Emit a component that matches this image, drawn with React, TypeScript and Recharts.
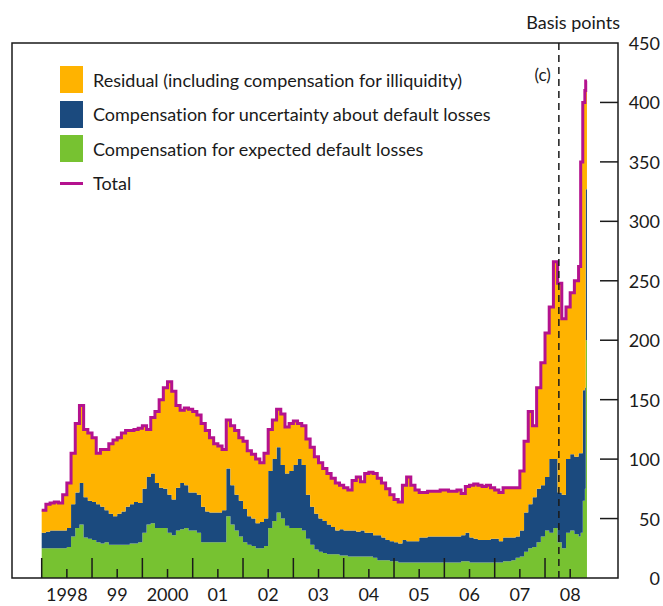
import React from 'react';
import { ComposedChart, Area, Line, XAxis, YAxis, ReferenceLine, ReferenceArea } from 'recharts';

// x positions are months counted from January 1998
const yearLabels = ['1998', '99', '2000', '01', '02', '03', '04', '05', '06', '07', '08'];
const xTicks = [0, 6, 12, 18, 24, 30, 36, 42, 48, 54, 60, 66, 72, 78, 84, 90, 96, 102, 108, 114, 120, 126];
const yTicks = [0, 50, 100, 150, 200, 250, 300, 350, 400, 450];

// monthly values, Jan 1998 - Aug 2008 (basis points)
const totalByYear = [
  [57, 62, 63, 64, 63, 70, 80, 105, 130, 145, 125, 122],
  [118, 105, 108, 108, 113, 116, 118, 122, 124, 124, 125, 126],
  [128, 125, 135, 140, 150, 160, 165, 157, 145, 141, 143, 142],
  [140, 137, 130, 124, 118, 113, 111, 108, 133, 128, 124, 118],
  [115, 107, 104, 100, 97, 105, 125, 133, 142, 138, 127, 130],
  [132, 130, 128, 117, 110, 102, 97, 92, 88, 84, 80, 78],
  [76, 74, 82, 85, 81, 88, 89, 88, 84, 80, 75, 70],
  [66, 64, 78, 85, 78, 74, 72, 72, 73, 73, 73, 74],
  [74, 73, 73, 74, 71, 77, 78, 79, 78, 77, 78, 76],
  [74, 72, 76, 76, 76, 76, 90, 115, 140, 128, 160, 181],
  [206, 228, 266, 248, 218, 228, 240, 250],
];

const expectedByYear = [
  [25, 25, 25, 25, 25, 25, 26, 35, 42, 45, 34, 33],
  [32, 30, 29, 30, 28, 28, 28, 28, 28, 29, 29, 30],
  [38, 45, 46, 42, 42, 42, 38, 36, 40, 41, 42, 40],
  [40, 38, 30, 30, 30, 30, 30, 30, 52, 45, 40, 35],
  [30, 28, 27, 25, 25, 27, 42, 48, 55, 50, 44, 42],
  [42, 42, 40, 33, 28, 24, 22, 21, 20, 20, 20, 19],
  [19, 18, 18, 18, 18, 18, 18, 17, 15, 15, 15, 14],
  [14, 13, 13, 13, 13, 13, 13, 13, 13, 13, 13, 13],
  [13, 13, 13, 13, 14, 14, 13, 13, 13, 13, 13, 13],
  [13, 13, 14, 14, 15, 17, 18, 22, 25, 26, 30, 35],
  [40, 38, 42, 30, 25, 38, 40, 37],
];

const uncertaintyByYear = [
  [13, 14, 15, 15, 15, 15, 16, 27, 30, 35, 34, 32],
  [32, 32, 31, 27, 26, 24, 26, 28, 32, 33, 35, 33],
  [37, 40, 42, 38, 34, 33, 32, 30, 36, 39, 36, 32],
  [32, 32, 30, 26, 25, 25, 25, 27, 40, 33, 30, 30],
  [28, 24, 23, 21, 22, 23, 48, 52, 55, 45, 44, 48],
  [53, 58, 55, 37, 32, 30, 28, 27, 25, 23, 20, 22],
  [21, 22, 22, 21, 22, 20, 20, 19, 21, 19, 17, 17],
  [16, 16, 19, 18, 18, 18, 21, 21, 22, 22, 22, 22],
  [22, 22, 22, 22, 22, 24, 21, 20, 19, 19, 19, 20],
  [20, 18, 20, 20, 19, 18, 22, 33, 37, 42, 45, 43],
  [45, 62, 58, 42, 45, 62, 64, 65],
];

// Sep - Oct 2008, finer steps (last row closes the final step)
const lateMonths = [128, 128.5, 129, 129.5, 129.7, 130];
const lateTotal = [262, 350, 400, 410, 418, 418];
const lateExpected = [35, 38, 65, 75, 200, 200];
const lateUncertainty = [70, 67, 93, 85, 127, 127];

const crisisMonth = 123.3;

const ORANGE = '#FFB300';
const BLUE = '#1B4A7E';
const GREEN = '#77C231';
const MAGENTA = '#B4128E';
const INK = '#1a1a1a';
const FONT = 'Lato, "Open Sans", sans-serif';
const textStyle = { fontVariantLigatures: 'none' } as React.CSSProperties;

const total = totalByYear.flat().concat(lateTotal);
const expected = expectedByYear.flat().concat(lateExpected);
const uncertainty = uncertaintyByYear.flat().concat(lateUncertainty);
const months = totalByYear.flat().map((_, i) => i).concat(lateMonths);

const data = months.map((m, i) => ({
  m,
  expected: expected[i],
  uncertainty: uncertainty[i],
  residual: total[i] - expected[i] - uncertainty[i],
  total: total[i],
}));

const XTick = (props: any) => {
  const { x, y, payload } = props;
  const major = payload.value % 12 === 0;
  return (
    <g>
      <line x1={x} x2={x} y1={y} y2={y - (major ? 20 : 9)} stroke={INK} strokeWidth={1.5} />
      {!major && (
        <text x={x} y={y + 16} textAnchor="middle" dominantBaseline="central" fontFamily={FONT} fontSize={18} fill={INK} style={textStyle}>
          {yearLabels[(payload.value - 6) / 12]}
        </text>
      )}
    </g>
  );
};

const RightTick = (props: any) => {
  const { x, y, payload } = props;
  return (
    <g>
      {payload.value > 0 && payload.value < 450 && (
        <line x1={x - 18} x2={x} y1={y} y2={y} stroke={INK} strokeWidth={1.5} />
      )}
      <text x={x + 42} y={y} textAnchor="end" dominantBaseline="central" fontFamily={FONT} fontSize={18} fill={INK} style={textStyle}>
        {payload.value}
      </text>
    </g>
  );
};

const LeftTick = (props: any) => {
  const { x, y, payload } = props;
  if (payload.value === 0 || payload.value === 450) return <g />;
  return <line x1={x} x2={x + 19} y1={y} y2={y} stroke={INK} strokeWidth={1.5} />;
};

const CrisisLabel = (props: any) => {
  const { viewBox } = props;
  return (
    <text x={viewBox.x - 8} y={viewBox.y + 31} textAnchor="end" dominantBaseline="central" fontFamily={FONT} fontSize={17} fill={INK} style={textStyle}>
      (c)
    </text>
  );
};

const legendItems = [
  { label: 'Residual (including compensation for illiquidity)', color: ORANGE },
  { label: 'Compensation for uncertainty about default losses', color: BLUE },
  { label: 'Compensation for expected default losses', color: GREEN },
];

const App = () => {
  return (
    <div style={{ position: 'absolute', left: 0, top: 0, width: 663, height: 606, fontFamily: FONT, color: INK, ...textStyle }}>
      <ComposedChart width={663} height={606} data={data} margin={{ top: 43, right: 0, bottom: 0, left: 12 }}>
        <XAxis
          dataKey="m"
          type="number"
          domain={[-7.08, 137.4]}
          ticks={xTicks}
          tick={<XTick />}
          tickLine={false}
          axisLine={false}
          tickSize={0}
          tickMargin={0}
          height={28}
          interval={0}
          allowDataOverflow
        />
        <YAxis yAxisId="r" orientation="right" domain={[0, 450]} ticks={yTicks} tick={<RightTick />} tickLine={false} axisLine={false} tickSize={0} tickMargin={0} width={45} interval={0} />
        <YAxis yAxisId="l" orientation="left" domain={[0, 450]} ticks={yTicks} tick={<LeftTick />} tickLine={false} axisLine={false} tickSize={0} tickMargin={0} width={0} interval={0} />
        <Area yAxisId="r" type="stepAfter" dataKey="expected" stackId="a" fill={GREEN} stroke="none" fillOpacity={1} isAnimationActive={false} />
        <Area yAxisId="r" type="stepAfter" dataKey="uncertainty" stackId="a" fill={BLUE} stroke="none" fillOpacity={1} isAnimationActive={false} />
        <Area yAxisId="r" type="stepAfter" dataKey="residual" stackId="a" fill={ORANGE} stroke="none" fillOpacity={1} isAnimationActive={false} />
        <Line yAxisId="r" type="stepAfter" dataKey="total" stroke={MAGENTA} strokeWidth={3} dot={false} isAnimationActive={false} />
        <ReferenceLine yAxisId="r" x={crisisMonth} stroke={INK} strokeWidth={1.5} strokeDasharray="7 5" label={<CrisisLabel />} />
        <ReferenceArea yAxisId="r" x1={-7.08} x2={137.4} y1={0} y2={450} fill="none" stroke={INK} strokeWidth={1.5} ifOverflow="visible" />
      </ComposedChart>
      <div style={{ position: 'absolute', right: 43, top: 11, fontSize: 18 }}>Basis points</div>
      <div style={{ position: 'absolute', left: 60, top: 66 }}>
        {legendItems.map((it) => (
          <div key={it.label} style={{ display: 'flex', alignItems: 'center', height: 27, marginBottom: 7.5 }}>
            <div style={{ width: 23, height: 27, background: it.color }} />
            <span style={{ marginLeft: 10, fontSize: 18, whiteSpace: 'nowrap' }}>{it.label}</span>
          </div>
        ))}
        <div style={{ display: 'flex', alignItems: 'center', height: 27 }}>
          <div style={{ width: 23, height: 3, background: MAGENTA }} />
          <span style={{ marginLeft: 10, fontSize: 18 }}>Total</span>
        </div>
      </div>
    </div>
  );
};

export default App;
